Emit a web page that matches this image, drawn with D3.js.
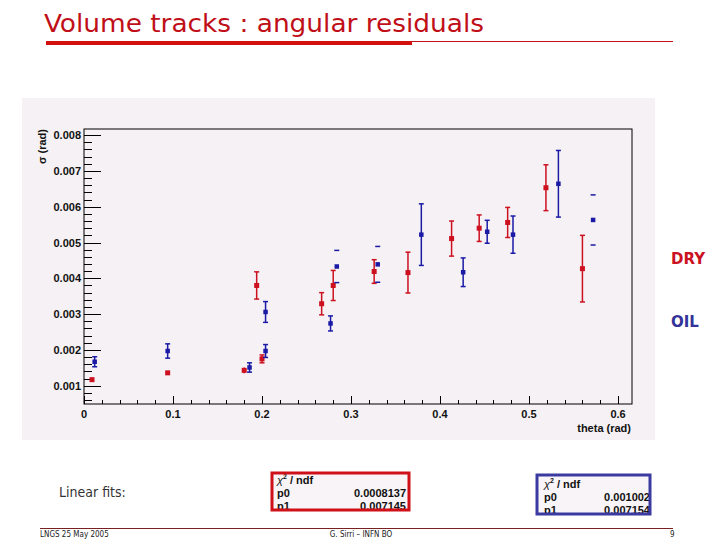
<!DOCTYPE html>
<html><head><meta charset="utf-8">
<script src="https://cdn.jsdelivr.net/npm/d3@7"></script>
<style>body{margin:0;background:#fff}svg{display:block}</style>
</head><body>
<script>
// ---- data ----
const dryTheta = [0.009,0.094,0.180,0.194,0.200,0.267,0.280,0.326,0.364,0.413,0.444,0.476,0.519,0.560];
const drySigma = [0.00117,0.00136,0.00143,0.00380,0.00175,0.00329,0.00380,0.00419,0.00416,0.00511,0.00540,0.00556,0.00653,0.00427];
const dryErr   = [0.00005,0.00003,0.00008,0.00038,0.00011,0.00031,0.00042,0.00033,0.00057,0.00049,0.00037,0.00042,0.00064,0.00093];
const oilTheta = [0.012,0.094,0.186,0.204,0.204,0.277,0.284,0.330,0.379,0.426,0.453,0.482,0.533,0.572];
const oilSigma = [0.00167,0.00197,0.00151,0.00197,0.00306,0.00274,0.00433,0.00439,0.00522,0.00417,0.00530,0.00522,0.00664,0.00563];
const oilErr   = [0.00014,0.00020,0.00013,0.00018,0.00029,0.00021,0.00045,0.00050,0.00086,0.00040,0.00032,0.00052,0.00093,0.00070];
const yTicks = [0.001,0.002,0.003,0.004,0.005,0.006,0.007,0.008];
const xTicks = [0,0.1,0.2,0.3,0.4,0.5,0.6];
const fitLabels = ["p0","p1"];
const dryFit = ["0.0008137","0.007145"];
const oilFit = ["0.001002","0.007154"];

const W=720,H=540;
const svg=d3.select("body").append("svg").attr("width",W).attr("height",H);
const red="#cc1020", blue="#1a1aa6";

// title
svg.append("text").attr("x",44).attr("y",32).attr("fill","#c00f18")
  .attr("font-family","'DejaVu Sans Condensed','DejaVu Sans',sans-serif").attr("font-size",24)
  .attr("textLength",440).attr("lengthAdjust","spacingAndGlyphs").text("Volume tracks : angular residuals");
svg.append("line").attr("x1",412).attr("x2",673).attr("y1",41.5).attr("y2",41.5).attr("stroke","#c8101a").attr("stroke-width",1);
svg.append("rect").attr("x",46).attr("y",41).attr("width",366).attr("height",4).attr("fill","#d4100f");

// panel
svg.append("rect").attr("x",22).attr("y",98).attr("width",633).attr("height",342).attr("fill","#f6f1f4");

const x=d3.scaleLinear().domain([0,0.6157]).range([84,632]);
const y=d3.scaleLinear().domain([0.00049,0.00817]).range([404,129]);

const g=svg.append("g");
// frame
g.append("rect").attr("x",84).attr("y",129).attr("width",548).attr("height",275).attr("fill","none").attr("stroke","#000").attr("stroke-width",1);

// y ticks (inside, pointing right)
const yMinor=d3.range(0.0006,0.00815,0.0002);
g.selectAll(".ymin").data(yMinor).join("line").attr("x1",84).attr("x2",92)
  .attr("y1",d=>Math.round(y(d))+0.5).attr("y2",d=>Math.round(y(d))+0.5).attr("stroke","#000");
g.selectAll(".ymaj").data(yTicks).join("line").attr("x1",84).attr("x2",101)
  .attr("y1",d=>Math.round(y(d))+0.5).attr("y2",d=>Math.round(y(d))+0.5).attr("stroke","#000");
g.selectAll(".ylab").data(yTicks).join("text").attr("x",81).attr("y",d=>y(d)+4)
  .attr("text-anchor","end").attr("font-family","'Liberation Sans',Arial,sans-serif").attr("font-weight","bold").attr("font-size",11)
  .attr("fill","#111").text(d=>d3.format(".3f")(d));

// x ticks (inside, pointing up)
const xMinor=d3.range(0.02,0.615,0.02);
g.selectAll(".xmin").data(xMinor).join("line").attr("y1",404).attr("y2",400)
  .attr("x1",d=>Math.round(x(d))+0.5).attr("x2",d=>Math.round(x(d))+0.5).attr("stroke","#000");
g.selectAll(".xmaj").data(xTicks).join("line").attr("y1",404).attr("y2",396)
  .attr("x1",d=>Math.round(x(d))+0.5).attr("x2",d=>Math.round(x(d))+0.5).attr("stroke","#000");
g.selectAll(".xlab").data(xTicks).join("text").attr("x",d=>x(d)).attr("y",418)
  .attr("text-anchor","middle").attr("font-family","'Liberation Sans',Arial,sans-serif").attr("font-weight","bold").attr("font-size",11)
  .attr("fill","#111").text(d=>d===0?"0":d3.format(".1f")(d));

// axis titles
svg.append("text").attr("x",631).attr("y",432).attr("text-anchor","end")
  .attr("font-family","'Liberation Sans',Arial,sans-serif").attr("font-weight","bold").attr("font-size",11).attr("fill","#111").text("theta (rad)");
svg.append("text").attr("transform","translate(46,129) rotate(-90)").attr("text-anchor","end")
  .attr("font-family","'Liberation Sans',Arial,sans-serif").attr("font-weight","bold").attr("font-size",11).attr("fill","#111").text("σ (rad)");

// series
const capsOnlyOil=new Set([6,7,13]);
function drawSeries(th,sg,er,col,ms,capsOnly){
  const data=th.map((t,i)=>({t,s:sg[i],e:er[i],i}));
  const s=g.append("g");
  data.forEach(d=>{
    const cx=x(d.t), y0=y(d.s+d.e), y1=y(d.s-d.e);
    if(!(capsOnly&&capsOnly.has(d.i)))
      s.append("line").attr("x1",cx).attr("x2",cx).attr("y1",y0).attr("y2",y1).attr("stroke",col).attr("stroke-width",1.5);
    if(y1-y0>6){
      [y0,y1].forEach(yy=>s.append("line").attr("x1",cx-2.5).attr("x2",cx+2.5).attr("y1",yy).attr("y2",yy).attr("stroke",col).attr("stroke-width",1.5));
    }
    s.append("rect").attr("x",cx-ms/2).attr("y",y(d.s)-ms/2).attr("width",ms).attr("height",ms).attr("fill",col);
  });
}
drawSeries(dryTheta,drySigma,dryErr,red,5,null);
drawSeries(oilTheta,oilSigma,oilErr,blue,4.5,capsOnlyOil);

// series labels
svg.append("text").attr("x",671).attr("y",264).attr("fill","#cc1122").attr("font-family","'DejaVu Sans',Verdana,sans-serif")
  .attr("font-weight","bold").attr("font-size",15).text("DRY");
svg.append("text").attr("x",671).attr("y",327).attr("fill","#333399").attr("font-family","'DejaVu Sans',Verdana,sans-serif")
  .attr("font-weight","bold").attr("font-size",15).text("OIL");

// Linear fits
svg.append("text").attr("x",59).attr("y",497).attr("fill","#333").attr("font-family","'DejaVu Sans Condensed','DejaVu Sans',sans-serif")
  .attr("font-size",14).text("Linear fits:");

function fitBox(bx,by,bw,bh,col,vals,valRight,tx,base){
  const id="clip"+bx;
  svg.append("clipPath").attr("id",id).append("rect").attr("x",bx).attr("y",by).attr("width",bw).attr("height",bh);
  svg.append("rect").attr("x",bx).attr("y",by).attr("width",bw).attr("height",bh).attr("fill","#f8f4f7");
  const t=svg.append("g").attr("clip-path",`url(#${id})`).attr("font-family","'Liberation Sans',Arial,sans-serif")
    .attr("font-weight","bold").attr("font-size",11).attr("fill","#111");
  const h=t.append("text").attr("x",tx).attr("y",base);
  h.append("tspan").attr("font-weight","normal").attr("font-style","italic").text("χ");
  h.append("tspan").attr("font-size",7).attr("dy",-5).text("2");
  h.append("tspan").attr("dy",5).text(" / ndf");
  fitLabels.forEach((l,i)=>{
    t.append("text").attr("x",tx).attr("y",base+13*(i+1)).text(l);
    t.append("text").attr("x",valRight).attr("y",base+13*(i+1)).attr("text-anchor","end").text(vals[i]);
  });
  svg.append("rect").attr("x",bx).attr("y",by).attr("width",bw).attr("height",bh).attr("fill","none").attr("stroke",col).attr("stroke-width",3);
}
fitBox(272,473,137,37,"#d01018",dryFit,406,277,484);
fitBox(537,475,113,39,"#3a3aa0",oilFit,650,544,488);

// footer
svg.append("line").attr("x1",40).attr("x2",673).attr("y1",528.5).attr("y2",528.5).attr("stroke","#7a2020").attr("stroke-width",1);
const ff="'DejaVu Sans Condensed','DejaVu Sans',sans-serif";
svg.append("text").attr("x",40).attr("y",537).attr("font-family",ff).attr("font-size",8).attr("fill","#222").text("LNGS 25 May 2005");
svg.append("text").attr("x",361).attr("y",537).attr("text-anchor","middle").attr("font-family",ff).attr("font-size",8).attr("fill","#222").text("G. Sirri – INFN BO");
svg.append("text").attr("x",670).attr("y",537).attr("font-family",ff).attr("font-size",8).attr("fill","#222").text("9");
</script>
</body></html>
